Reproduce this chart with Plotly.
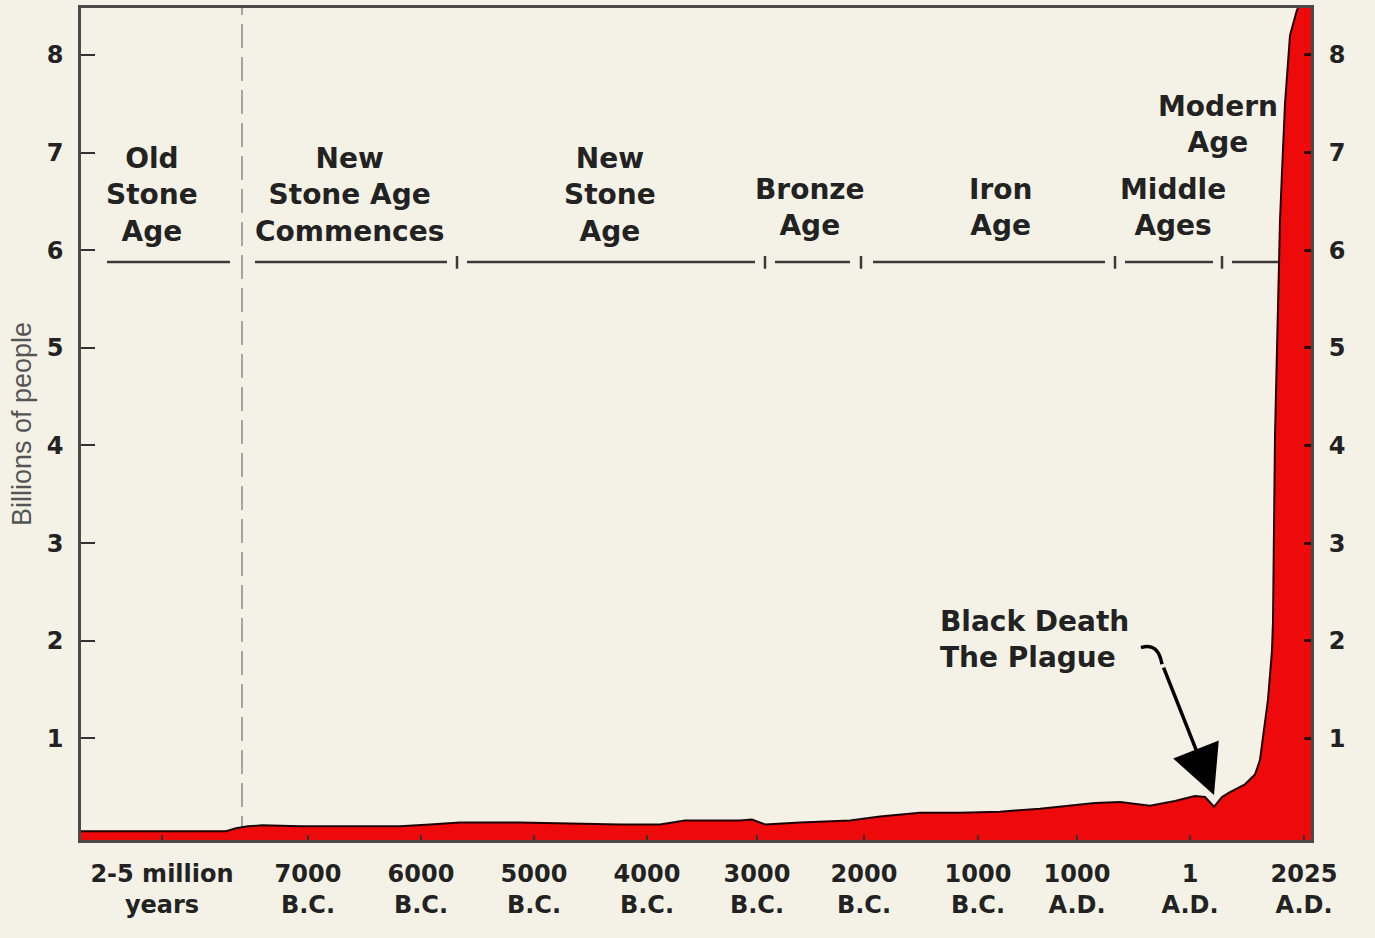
import plotly.graph_objects as go

# ---------------- data (x in chart-position units, y in billions) ----------------
pop_x = [0.0, 6.9, 14.5, 15.5, 16.7, 18.1, 21.9, 26.9, 31.9, 34.9, 37.9, 43.9, 48.9,
         53.9, 57.9, 60.4, 62.9, 65.9, 67.1, 68.4, 71.9, 76.9, 79.9, 83.9, 87.9, 91.9,
         95.9, 98.9, 101.4, 103.9, 106.9, 109.4, 111.4, 112.4, 113.3, 114.1, 114.9,
         116.4, 117.4, 117.9, 118.2, 118.7, 119.1, 119.2, 119.4, 119.7, 119.9, 120.1,
         120.4, 120.9, 121.6, 123.0]
pop_y = [0.05, 0.05, 0.05, 0.08, 0.10, 0.11, 0.10, 0.10, 0.10, 0.12, 0.14, 0.14, 0.13,
         0.12, 0.12, 0.16, 0.16, 0.16, 0.17, 0.12, 0.14, 0.16, 0.20, 0.24, 0.24, 0.25,
         0.28, 0.31, 0.34, 0.35, 0.31, 0.36, 0.41, 0.40, 0.30, 0.40, 0.45,
         0.53, 0.63, 0.78, 1.00, 1.40, 1.90, 2.20, 4.10, 5.50, 6.30, 6.80,
         7.50, 8.20, 8.46, 8.7]

tick_pos = [8.1, 22.7, 34.0, 45.3, 56.6, 67.6, 78.3, 89.7, 99.6, 110.9, 122.3]
tick_labels = ["2-5 million<br>years", "7000<br>B.C.", "6000<br>B.C.", "5000<br>B.C.",
               "4000<br>B.C.", "3000<br>B.C.", "2000<br>B.C.", "1000<br>B.C.",
               "1000<br>A.D.", "1<br>A.D.", "2025<br>A.D."]
y_ticks = [1, 2, 3, 4, 5, 6, 7, 8]
y_range = [-0.04, 8.48]

era_names = ["Old<br>Stone<br>Age", "New<br>Stone Age<br>Commences", "New<br>Stone<br>Age",
             "Bronze<br>Age", "Iron<br>Age", "Middle<br>Ages", "Modern<br>Age"]
era_x = [7.1, 26.8, 52.9, 72.9, 91.9, 109.2, 113.7]
era_y = [6.57, 6.57, 6.57, 6.44, 6.44, 6.44, 7.29]
era_line_y = 5.88
era_starts = [2.6, 17.4, 38.6, 69.4, 79.2, 104.4, 115.1]
era_ends = [14.9, 36.6, 67.4, 76.9, 102.4, 113.2, 120.0]
era_tick_x = [37.6, 68.4, 78.0, 103.4, 114.1]
dashed_x = 16.1

plague_text = "Black Death<br>The Plague"
plague_text_pos = (85.7, 2.01)
plague_point = (113.3, 0.42)

BG = "#f4f2e6"
RED = "#ee0a0a"
DARK = "#222222"
BOLD = "DejaVu Sans"

fig = go.Figure()
# baseline at the bottom edge of the plot so the fill reaches the frame
fig.add_trace(go.Scatter(x=[pop_x[0], pop_x[-1]], y=[y_range[0], y_range[0]], mode="lines",
                         line=dict(width=0), hoverinfo="skip", showlegend=False))
fig.add_trace(go.Scatter(x=pop_x, y=pop_y, mode="lines", fill="tonexty",
                         fillcolor=RED, line=dict(color="#1e0000", width=2),
                         hoverinfo="skip", showlegend=False))
fig.add_trace(go.Scatter(x=pop_x, y=pop_y, mode="lines", yaxis="y2", opacity=0,
                         line=dict(width=0), hoverinfo="skip", showlegend=False))

shapes = []
shapes.append(dict(type="line", xref="x", yref="paper", x0=dashed_x, x1=dashed_x, y0=0, y1=1,
                   line=dict(color="#8a8a8a", width=1.5, dash="24px,9px"), layer="below"))
for s, e in zip(era_starts, era_ends):
    shapes.append(dict(type="line", xref="x", yref="y", x0=s, x1=e, y0=era_line_y, y1=era_line_y,
                       line=dict(color="#3a3a3a", width=2.5), layer="below"))
for t in era_tick_x:
    shapes.append(dict(type="line", xref="x", yref="y", x0=t, x1=t, y0=era_line_y - 0.07,
                       y1=era_line_y + 0.06, line=dict(color="#3a3a3a", width=2.5), layer="below"))
# hook at the start of the plague arrow
shapes.append(dict(type="path", xref="x", yref="y",
                   path="M 106.0,1.93 Q 107.7,1.99 108.1,1.76",
                   line=dict(color="#000000", width=3.5)))

annotations = []
for name, x, y in zip(era_names, era_x, era_y):
    annotations.append(dict(x=x, y=y, xref="x", yref="y", text="<b>" + name + "</b>",
                            showarrow=False, align="center",
                            font=dict(family=BOLD, size=28, color=DARK)))
annotations.append(dict(x=plague_text_pos[0], y=plague_text_pos[1], xref="x", yref="y",
                        text="<b>" + plague_text + "</b>", showarrow=False, align="left",
                        xanchor="left", font=dict(family=BOLD, size=28, color=DARK)))
annotations.append(dict(x=plague_point[0], y=plague_point[1], xref="x", yref="y", text="",
                        showarrow=True, ax=-51, ay=-129, arrowhead=2, arrowsize=2.8,
                        arrowwidth=3.5, arrowcolor="#000000", standoff=0))

fig.update_layout(
    width=1375, height=938, autosize=False,
    margin=dict(l=81, r=64, t=5, b=98),
    paper_bgcolor=BG, plot_bgcolor=BG,
    showlegend=False,
    shapes=shapes, annotations=annotations,
    xaxis=dict(range=[0, 123], tickvals=tick_pos,
               ticktext=["<b>" + t + "</b>" for t in tick_labels],
               tickfont=dict(family=BOLD, size=24, color=DARK),
               ticks="inside", ticklen=5, tickwidth=2, tickcolor="#333333",
               ticklabelstandoff=10,
               showgrid=False, zeroline=False, showline=True, linecolor="#4a4a4a",
               linewidth=3, mirror=True, fixedrange=True),
    yaxis=dict(range=y_range, tickvals=y_ticks,
               ticktext=["<b>%d</b>" % v for v in y_ticks],
               tickfont=dict(family=BOLD, size=24, color=DARK),
               ticks="inside", ticklen=14, tickwidth=2, tickcolor="#333333",
               ticklabelstandoff=10,
               title=dict(text="Billions of people", standoff=8,
                          font=dict(family="Liberation Sans", size=27, color="#555555")),
               showgrid=False, zeroline=False, showline=True, linecolor="#4a4a4a",
               linewidth=2.5, fixedrange=True),
    yaxis2=dict(range=y_range, overlaying="y", side="right", tickvals=y_ticks,
                ticktext=["<b>%d</b>" % v for v in y_ticks],
                tickfont=dict(family=BOLD, size=24, color=DARK),
                ticks="inside", ticklen=7, tickwidth=3, tickcolor="#3a0000",
                ticklabelstandoff=10,
                showgrid=False, zeroline=False, showline=True, linecolor="#4a4a4a",
                linewidth=3, fixedrange=True),
)

fig.write_html("out.html", config={"displayModeBar": False},
               post_script="document.body.style.margin='0';")
